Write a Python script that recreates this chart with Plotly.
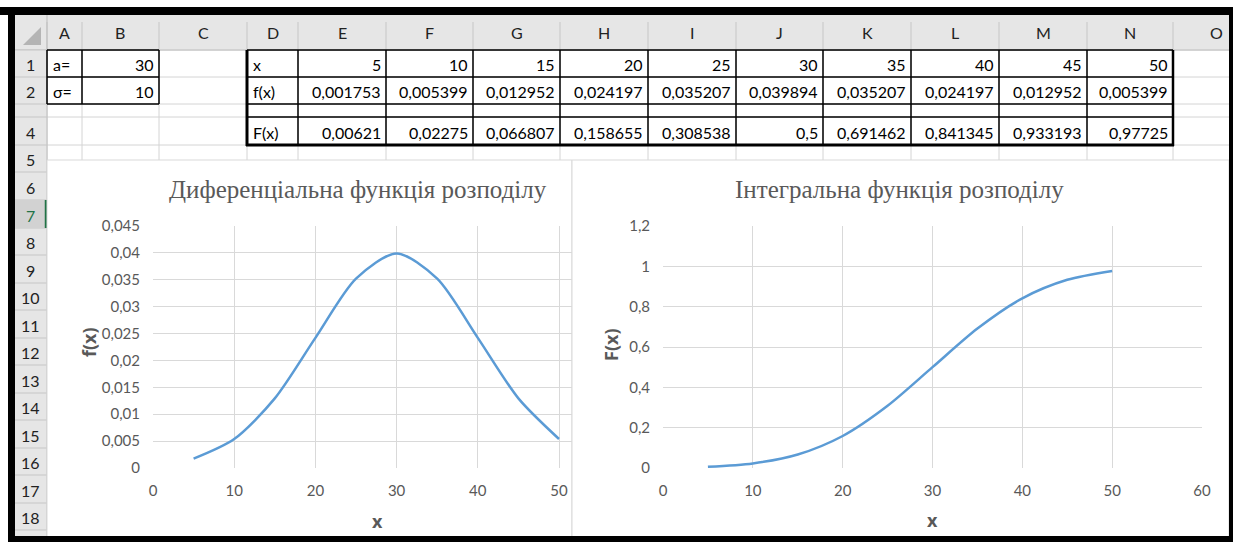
import plotly.graph_objects as go

# ---------------- data ----------------
x_vals = [5, 10, 15, 20, 25, 30, 35, 40, 45, 50]
f_vals = [0.001753, 0.005399, 0.012952, 0.024197, 0.035207,
          0.039894, 0.035207, 0.024197, 0.012952, 0.005399]
F_vals = [0.00621, 0.02275, 0.066807, 0.158655, 0.308538,
          0.5, 0.691462, 0.841345, 0.933193, 0.97725]
a_val = 30
sigma_val = 10
col_letters = ["A", "B", "C", "D", "E", "F", "G", "H", "I", "J", "K", "L", "M", "N", "O"]
row_numbers = list(range(1, 19))
f_ticks = [0, 0.005, 0.01, 0.015, 0.02, 0.025, 0.03, 0.035, 0.04, 0.045]
F_ticks = [0, 0.2, 0.4, 0.6, 0.8, 1, 1.2]
x1_ticks = [0, 10, 20, 30, 40, 50]
x2_ticks = [0, 10, 20, 30, 40, 50, 60]
title1 = "Диференціальна функція розподілу"
title2 = "Інтегральна функція розподілу"

# ---------------- helpers ----------------
W, H = 1236, 542


def px(x):
    return x / W


def py(y):
    return 1 - y / H


def ua(v):
    return ("%g" % v).replace(".", ",")


shapes = []
annots = []


def rect(x0, y0, x1, y1, fill=None, line=None, lw=0, layer="below"):
    shapes.append(dict(type="rect", xref="paper", yref="paper",
                       x0=px(x0), x1=px(x1), y0=py(y1), y1=py(y0),
                       fillcolor=fill if fill else "rgba(0,0,0,0)",
                       line=dict(color=line if line else "rgba(0,0,0,0)", width=lw),
                       layer=layer))


def seg(x0, y0, x1, y1, color, lw=1, layer="below"):
    shapes.append(dict(type="line", xref="paper", yref="paper",
                       x0=px(x0), x1=px(x1), y0=py(y0), y1=py(y1),
                       line=dict(color=color, width=lw), layer=layer))


def text(x, y, s, size=16, color="#000000", xanchor="center", family="Lato",
         bold=False, angle=0):
    annots.append(dict(xref="paper", yref="paper", x=px(x), y=py(y),
                       text=("<b>%s</b>" % s) if bold else s,
                       showarrow=False, xanchor=xanchor, yanchor="middle",
                       textangle=angle,
                       font=dict(family=family, size=size, color=color,
                                 weight=700 if bold else 400)))


# ---------------- spreadsheet geometry ----------------
col_edges = [47, 82, 159, 247, 298, 386, 473, 560, 648, 736, 823, 911, 999, 1087, 1173, 1260]
row_edges = [50, 77, 104, 117, 145, 172, 200, 228, 255, 283, 310, 338, 365, 393, 420,
             448, 475, 503, 530, 558]
RIGHT = 1229
BOTTOM = 536
grid_c = "#d4d4d4"

# cell gridlines (visible above the charts)
for x in col_edges:
    if x < RIGHT:
        seg(x, 50, x, 162, grid_c)
for y in row_edges[:6]:
    seg(47, y, RIGHT, y, grid_c)

# column header
rect(15, 15, RIGHT, 50, fill="#e6e6e6")
seg(15, 50, RIGHT, 50, "#bdbdbd")
for x in col_edges:
    if x < RIGHT:
        seg(x, 22, x, 50, "#c6c6c6")
# row header
rect(15, 50, 47, BOTTOM, fill="#e6e6e6")
seg(47, 15, 47, BOTTOM, "#bdbdbd")
for y in row_edges:
    if y < BOTTOM:
        seg(15, y, 47, y, "#c6c6c6")
# select-all triangle
shapes.append(dict(type="path", xref="paper", yref="paper",
                   path="M %f,%f L %f,%f L %f,%f Z" % (px(41), py(27), px(41), py(45), px(23), py(45)),
                   fillcolor="#b4b4b4", line=dict(width=0), layer="below"))
# active row 7 highlight
rect(15, 200, 47, 228, fill="#d2d2d2")
seg(46, 200, 46, 228, "#217346", 2.5)

# column letters
for i, letter in enumerate(col_letters):
    cx = (col_edges[i] + min(col_edges[i + 1], 1260)) / 2
    if letter == "O":
        cx = 1216
    text(cx, 33, letter, size=16, color="#222222")
# row numbers
for r in row_numbers:
    if r == 3:
        continue
    cy = (row_edges[r - 1] + row_edges[r]) / 2
    color = "#217346" if r == 7 else "#222222"
    text(30, cy + 1, str(r), size=16, color=color)

# table borders
K = "#000000"
# A1:B2
for y in (50, 77, 104):
    seg(47, y, 159, y, K, 1.5)
for x in (47, 82, 159):
    seg(x, 50, x, 104, K, 1.5)
# D1:N4
for y in (50, 77, 104, 117):
    seg(247, y, 1173, y, K, 1.5)
seg(246, 145, 1174, 145, K, 3)
for x in col_edges[3:15]:
    seg(x, 50, x, 145, K, 1.5)
seg(247, 50, 247, 146, K, 3)
seg(1173, 50, 1173, 146, K, 2.5)

# cell text
rc = [(row_edges[0] + row_edges[1]) / 2, (row_edges[1] + row_edges[2]) / 2,
      None, (row_edges[3] + row_edges[4]) / 2]
text(51, rc[0] + 1, "a=", xanchor="left")
text(51, rc[1] + 1, "σ=", xanchor="left")
text(156, rc[0] + 1, str(a_val), xanchor="right")
text(156, rc[1] + 1, str(sigma_val), xanchor="right")
text(251, rc[0] + 1, "x", xanchor="left")
text(251, rc[1] + 1, "f(x)", xanchor="left")
text(251, rc[3] + 1, "F(x)", xanchor="left")
for i in range(len(x_vals)):
    rx = col_edges[i + 5] - 3
    text(rx, rc[0] + 1, ua(x_vals[i]), xanchor="right")
    text(rx, rc[1] + 1, ua(f_vals[i]), xanchor="right")
    text(rx, rc[3] + 1, ua(F_vals[i]), xanchor="right")

# chart areas
rect(47, 160, 572, BOTTOM + 4, fill="#ffffff", line="#d9d9d9", lw=1)
rect(572, 160, RIGHT, BOTTOM + 4, fill="#ffffff", line="#d9d9d9", lw=1)

# chart titles and axis titles
tcol = "#595959"
text(358, 189, title1, size=25, color=tcol, family="Liberation Serif")
text(899, 189, title2, size=25, color=tcol, family="Liberation Serif")
text(89, 342, "f(x)", size=18, color=tcol, bold=True, angle=-90, family="Open Sans")
text(611, 345, "F(x)", size=18, color=tcol, bold=True, angle=-90, family="Open Sans")
text(378, 521, "x", size=18, color=tcol, bold=True, family="Open Sans")
text(932, 520, "x", size=18, color=tcol, bold=True, family="Open Sans")

# black frame (above everything)
rect(0, 7, W, 15, fill="#000000", layer="above")
rect(8, 7, 15, H, fill="#000000", layer="above")
rect(1229, 7, 1233, H, fill="#000000", layer="above")
rect(8, 536, 1233, H, fill="#000000", layer="above")
rect(1233, 0, W, H, fill="#ffffff", layer="above")

# ---------------- figure ----------------
line_style = dict(color="#5b9bd5", width=2.5, shape="spline", smoothing=0.8)
fig = go.Figure()
fig.add_trace(go.Scatter(x=x_vals, y=f_vals, mode="lines", line=line_style,
                         xaxis="x", yaxis="y", showlegend=False, hoverinfo="skip"))
fig.add_trace(go.Scatter(x=x_vals, y=F_vals, mode="lines", line=line_style,
                         xaxis="x2", yaxis="y2", showlegend=False, hoverinfo="skip"))

y_top, y_bot = 226, 468
x1_0, x1_10 = 153, 81.2
x1_right = 572
x2_0, x2_60 = 663, 1202

tickfont = dict(family="Lato", size=15, color="#595959")
common = dict(showgrid=True, gridcolor="#d9d9d9", gridwidth=1, zeroline=False,
              showline=False, ticks="", tickfont=tickfont, fixedrange=True,
              automargin=False)

fig.update_layout(
    width=W, height=H, autosize=False,
    margin=dict(l=0, r=0, t=0, b=0, pad=0),
    paper_bgcolor="#ffffff",
    plot_bgcolor="rgba(0,0,0,0)",
    showlegend=False,
    xaxis=dict(domain=[px(x1_0), px(x1_right)],
               range=[0, (x1_right - x1_0) / x1_10 * 10],
               tickvals=x1_ticks, ticktext=[ua(v) for v in x1_ticks],
               ticklabelstandoff=12, anchor="y", **common),
    yaxis=dict(domain=[py(y_bot), py(y_top)], range=[0, 0.045],
               tickvals=f_ticks, ticktext=[ua(v) for v in f_ticks],
               ticklabelstandoff=12, anchor="x", **common),
    xaxis2=dict(domain=[px(x2_0), px(x2_60)], range=[0, 60],
                tickvals=x2_ticks, ticktext=[ua(v) for v in x2_ticks],
                ticklabelstandoff=12, anchor="y2", **common),
    yaxis2=dict(domain=[py(y_bot), py(y_top)], range=[0, 1.2],
                tickvals=F_ticks, ticktext=[ua(v) for v in F_ticks],
                ticklabelstandoff=12, anchor="x2", **common),
    shapes=shapes,
    annotations=annots,
)

fig.write_html("out.html", config={"responsive": False, "displayModeBar": False},
               post_script="document.body.style.margin='0px';document.body.style.overflow='hidden';")
